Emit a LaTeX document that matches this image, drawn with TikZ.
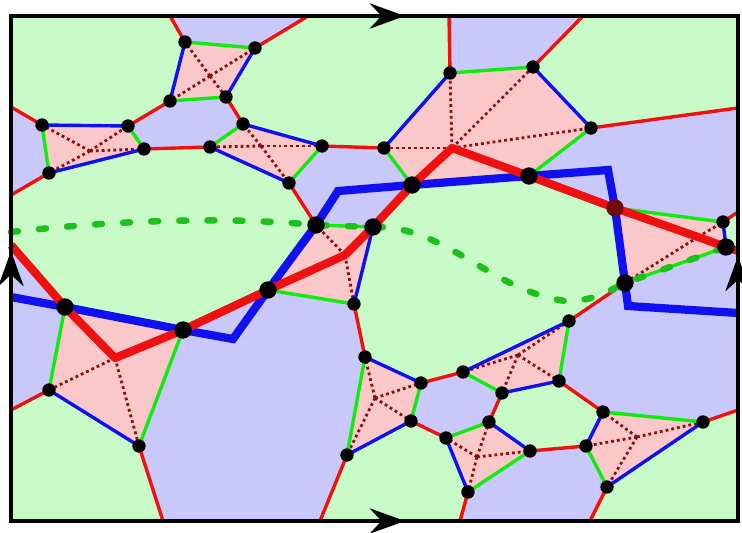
\documentclass[tikz,border=0pt]{standalone}
\usetikzlibrary{arrows.meta}
\definecolor{faceG}{HTML}{C8FAC8}
\definecolor{faceB}{HTML}{C8C8FA}
\definecolor{cellP}{HTML}{FAC8C8}
\definecolor{edgeR}{HTML}{F01010}
\definecolor{edgeB}{HTML}{1010F0}
\definecolor{edgeG}{HTML}{10EC10}
\definecolor{dualR}{HTML}{8B1010}
\definecolor{loopG}{HTML}{1EC01E}
\definecolor{hitR} {HTML}{6E0A0A}

\begin{document}
\begin{tikzpicture}[
  x=0.03cm,y=-0.03cm,
  >={Stealth[length=10.5mm,width=7.5mm]},
  redE/.style={draw=edgeR,line width=2.9pt},
  bluE/.style={draw=edgeB,line width=2.9pt},
  grnE/.style={draw=edgeG,line width=2.9pt},
  dual/.style={draw=dualR,line width=2.4pt,dash pattern=on 2.4pt off 2.6pt},
  cutR/.style={draw=edgeR,line width=7pt,line join=round},
  cutB/.style={draw=edgeB,line width=7pt},
  cycG/.style={draw=loopG,line width=5.5pt,line cap=round,dash pattern=on 6pt off 18pt},
  boxline/.style={draw=black,line width=4.2pt},
]
\useasboundingbox (0,0) rectangle (742,533);

% ---- frame and where edges leave it ---------------------------------------
\coordinate (nw) at (11,16);  \coordinate (ne) at (738,16);
\coordinate (sw) at (11,521); \coordinate (se) at (738,521);
\coordinate (tp1) at (170,16); \coordinate (tp2) at (308,16);
\coordinate (tp3) at (449,16); \coordinate (tp4) at (583,16);
\coordinate (bt1) at (163,521); \coordinate (bt2) at (320,521);
\coordinate (bt3) at (460,521); \coordinate (bt4) at (590,521);
\coordinate (lf1) at (11,107); \coordinate (lf2) at (11,195);
\coordinate (lf3) at (11,245); \coordinate (lf4) at (11,410);
\coordinate (rt1) at (738,108); \coordinate (rt2) at (738,212);
\coordinate (rt3) at (738,251); \coordinate (rt4) at (738,410);

% ---- cells (vertex 0 = centre) --------------------------------------------
\coordinate (A1) at (185,42);  \coordinate (A2) at (255,48);
\coordinate (A3) at (226,97);  \coordinate (A4) at (170,101); \coordinate (A0) at (210,76);
\coordinate (B1) at (42,125);  \coordinate (B2) at (128,126);
\coordinate (B3) at (144,149); \coordinate (B4) at (49,173);  \coordinate (B0) at (90,151);
\coordinate (C1) at (243,124); \coordinate (C2) at (322,146);
\coordinate (C3) at (289,183); \coordinate (C4) at (210,147); \coordinate (C0) at (261,146);
\coordinate (D1) at (450,73);  \coordinate (D2) at (533,67);  \coordinate (D3) at (591,128);
\coordinate (D4) at (529,176); \coordinate (D5) at (412,185); \coordinate (D6) at (384,148);
\coordinate (D0) at (452,148);
\coordinate (E1) at (615,208); \coordinate (E2) at (723,222);
\coordinate (E3) at (726,247); \coordinate (E4) at (625,283); \coordinate (E0) at (698,237);
\coordinate (F1) at (65,307);  \coordinate (F2) at (183,330);
\coordinate (F3) at (139,446); \coordinate (F4) at (49,390);  \coordinate (F0) at (115,358);
\coordinate (G1) at (316,225); \coordinate (G2) at (373,227);
\coordinate (G3) at (354,304); \coordinate (G4) at (268,290); \coordinate (G0) at (345,255);
\coordinate (H1) at (365,357); \coordinate (H2) at (421,383);
\coordinate (H3) at (411,421); \coordinate (H4) at (347,455); \coordinate (H0) at (375,398);
\coordinate (I1) at (463,372); \coordinate (I2) at (569,321);
\coordinate (I3) at (559,381); \coordinate (I4) at (502,393); \coordinate (I0) at (518,355);
\coordinate (J1) at (446,438); \coordinate (J2) at (489,422);
\coordinate (J3) at (530,451); \coordinate (J4) at (468,492); \coordinate (J0) at (477,457);
\coordinate (K1) at (586,446); \coordinate (K2) at (603,412);
\coordinate (K3) at (703,422); \coordinate (K4) at (607,487); \coordinate (K0) at (637,437);

% ---- faces: blue everywhere, green ones on top -----------------------------
\fill[faceB] (nw) rectangle (se);
\fill[faceG] (nw) -- (tp1) -- (A1) -- (A4) -- (B2) -- (B1) -- (lf1) -- cycle;
\fill[faceG] (tp2) -- (tp3) -- (D1) -- (D6) -- (C2) -- (C1) -- (A3) -- (A2) -- cycle;
\fill[faceG] (tp4) -- (ne) -- (rt1) -- (D3) -- (D2) -- cycle;
\fill[faceG] (lf2) -- (lf3) -- (F1) -- (F2) -- (G4) -- (G1) -- (C3) -- (C4) -- (B3) -- (B4) -- cycle;
\fill[faceG] (G2) -- (D5) -- (D4) -- (E1) -- (E4) -- (I2) -- (I1) -- (H2) -- (H1) -- (G3) -- cycle;
\fill[faceG] (rt2) -- (E2) -- (E3) -- (rt3) -- cycle;
\fill[faceG] (K3) -- (rt4) -- (se) -- (bt4) -- (K4) -- cycle;
\fill[faceG] (K1) -- (J3) -- (J2) -- (I4) -- (I3) -- (K2) -- cycle;
\fill[faceG] (bt2) -- (bt3) -- (J4) -- (J1) -- (H3) -- (H4) -- cycle;
\fill[faceG] (lf4) -- (sw) -- (bt1) -- (F3) -- (F4) -- cycle;

% ---- pink cells ------------------------------------------------------------
\foreach \cel in {A,B,C,E,F,G,H,I,J,K}
  \fill[cellP] (\cel1) -- (\cel2) -- (\cel3) -- (\cel4) -- cycle;
\fill[cellP] (D1) -- (D2) -- (D3) -- (D4) -- (D5) -- (D6) -- cycle;

% ---- dotted spokes from each centre ----------------------------------------
\foreach \cel in {A,B,C,E,F,G,H,I,J,K}
  \foreach \vtx in {1,...,4}
    \draw[dual] (\cel0) -- (\cel\vtx);
\foreach \vtx in {1,...,6}
  \draw[dual] (D0) -- (D\vtx);

% ---- red edges between cells ----------------------------------------------
\draw[redE] (tp1) -- (A1)  (tp2) -- (A2)  (A4) -- (B2)  (lf1) -- (B1)
            (lf2) -- (B4)  (B3) -- (C4)   (A3) -- (C1)  (C2) -- (D6)
            (tp3) -- (D1)  (tp4) -- (D2)  (D3) -- (rt1) (C3) -- (G1)
            (G2) -- (D5)   (D4) -- (E1)   (E2) -- (rt2) (E3) -- (rt3)
            (lf3) -- (F1)  (F2) -- (G4)   (G3) -- (H1)  (E4) -- (I2)
            (H2) -- (I1)   (H3) -- (J1)   (I4) -- (J2)  (J3) -- (K1)
            (I3) -- (K2)   (K3) -- (rt4)  (K4) -- (bt4) (J4) -- (bt3)
            (H4) -- (bt2)  (F3) -- (bt1)  (F4) -- (lf4);

% ---- cell sides, green / blue ----------------------------------------------
\draw[grnE] (A1) -- (A2) (A3) -- (A4);  \draw[bluE] (A2) -- (A3) (A4) -- (A1);
\draw[bluE] (B1) -- (B2) (B3) -- (B4);  \draw[grnE] (B2) -- (B3) (B4) -- (B1);
\draw[bluE] (C1) -- (C2) (C3) -- (C4);  \draw[grnE] (C2) -- (C3) (C4) -- (C1);
\draw[grnE] (D1) -- (D2) (D3) -- (D4) (D5) -- (D6);
\draw[bluE] (D2) -- (D3) (D4) -- (D5) (D6) -- (D1);
\draw[grnE] (E1) -- (E2) (E3) -- (E4);  \draw[bluE] (E2) -- (E3) (E4) -- (E1);
\draw[bluE] (F1) -- (F2) (F3) -- (F4);  \draw[grnE] (F2) -- (F3) (F4) -- (F1);
\draw[grnE] (G1) -- (G2) (G3) -- (G4);  \draw[bluE] (G2) -- (G3) (G4) -- (G1);
\draw[bluE] (H1) -- (H2) (H3) -- (H4);  \draw[grnE] (H2) -- (H3) (H4) -- (H1);
\draw[bluE] (I1) -- (I2) (I3) -- (I4);  \draw[grnE] (I2) -- (I3) (I4) -- (I1);
\draw[grnE] (J1) -- (J2) (J3) -- (J4);  \draw[bluE] (J2) -- (J3) (J4) -- (J1);
\draw[bluE] (K1) -- (K2) (K3) -- (K4);  \draw[grnE] (K2) -- (K3) (K4) -- (K1);

% ---- dashed green loop -----------------------------------------------------
\draw[cycG] (11,232) .. controls (110,221) and (220,216) .. (G1) -- (G2)
            .. controls (445,225) and (490,290) .. (565,301)
            .. controls (590,302) and (607,292) .. (E4) -- (E3) -- (738,243);

% ---- thick blue and red paths ----------------------------------------------
\draw[cutB] (11,297) -- (F1) -- (F2) -- (233,339) -- (G4) -- (G1) -- (338,191)
            -- (D5) -- (D4) -- (608,170) -- (E1) -- (E4) -- (628,306) -- (738,313);
\draw[cutR] (lf3) -- (F1) -- (F0) -- (F2) -- (G4) -- (G0) -- (G2) -- (D5) -- (D0)
            -- (D4) -- (E1) -- (E0) -- (E3) -- (rt3);

% ---- vertices ----------------------------------------------------------------
\foreach \vtx in {A1,A2,A3,A4,B1,B2,B3,B4,C1,C2,C3,C4,D1,D2,D3,D6,E2,F3,F4,G3,
                  H1,H2,H3,H4,I1,I2,I3,I4,J1,J2,J3,J4,K1,K2,K3,K4}
  \fill (\vtx) circle[radius=2mm];
\foreach \vtx in {F1,F2,G4,G1,G2,D5,D4,E3,E4}
  \fill (\vtx) circle[radius=2.6mm];
\fill[hitR] (E1) circle[radius=2.6mm];

% ---- frame with its arrows ---------------------------------------------------
\draw[boxline] (nw) rectangle (se);
\draw[boxline,->] (368,16) -- (405,16);
\draw[boxline,->] (368,521) -- (405,521);
\draw[boxline,->] (11,288) -- (11,251);
\draw[boxline,->] (738,293) -- (738,256);

\end{tikzpicture}
\end{document}
